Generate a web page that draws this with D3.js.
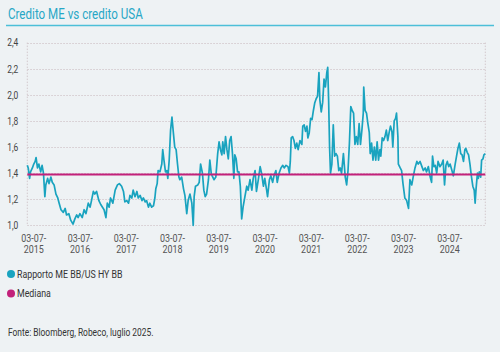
<!DOCTYPE html>
<html lang="it">
<head>
<meta charset="UTF-8">
<title>Credito ME vs credito USA</title>
<script src="https://d3js.org/d3.v7.min.js"></script>
<style>
    html, body { margin: 0; padding: 0; background: #eef2f4; }
    svg { display: block; font-family: Roboto, "Noto Sans", sans-serif; }
</style>
</head>
<body>
<svg width="500" height="352"></svg>
<script>
    // decimal years of the observations
    const years = [
        2015.36, 2015.38, 2015.41, 2015.43, 2015.47, 2015.50, 2015.53, 2015.55, 2015.58, 2015.61,
        2015.65, 2015.68, 2015.71, 2015.74, 2015.76, 2015.80, 2015.83, 2015.87, 2015.90, 2015.94,
        2015.98, 2016.02, 2016.05, 2016.09, 2016.14, 2016.18, 2016.21, 2016.26, 2016.30, 2016.35,
        2016.39, 2016.43, 2016.46, 2016.50, 2016.55, 2016.59, 2016.63, 2016.68, 2016.72, 2016.75,
        2016.79, 2016.82, 2016.86, 2016.91, 2016.95, 2017.02, 2017.06, 2017.09, 2017.13, 2017.16,
        2017.21, 2017.26, 2017.31, 2017.35, 2017.40, 2017.44, 2017.47, 2017.51, 2017.55, 2017.58,
        2017.62, 2017.65, 2017.69, 2017.73, 2017.76, 2017.80, 2017.84, 2017.87, 2017.91, 2017.94,
        2017.98, 2018.01, 2018.05, 2018.09, 2018.12, 2018.14, 2018.17, 2018.19, 2018.23, 2018.27,
        2018.29, 2018.32, 2018.35, 2018.38, 2018.40, 2018.43, 2018.46, 2018.49, 2018.52, 2018.55,
        2018.58, 2018.61, 2018.64, 2018.66, 2018.70, 2018.74, 2018.77, 2018.81, 2018.84, 2018.88,
        2018.92, 2018.95, 2018.97, 2019.00, 2019.05, 2019.08, 2019.11, 2019.15, 2019.18, 2019.21,
        2019.24, 2019.28, 2019.31, 2019.34, 2019.36, 2019.40, 2019.44, 2019.48, 2019.51, 2019.54,
        2019.57, 2019.59, 2019.62, 2019.65, 2019.68, 2019.71, 2019.74, 2019.77, 2019.80, 2019.83,
        2019.85, 2019.88, 2019.91, 2019.94, 2019.97, 2020.00, 2020.03, 2020.07, 2020.11, 2020.14,
        2020.18, 2020.22, 2020.25, 2020.29, 2020.32, 2020.36, 2020.40, 2020.43, 2020.47, 2020.50,
        2020.54, 2020.56, 2020.60, 2020.63, 2020.67, 2020.70, 2020.74, 2020.77, 2020.81, 2020.85,
        2020.89, 2020.92, 2020.96, 2021.00, 2021.03, 2021.05, 2021.07, 2021.10, 2021.13, 2021.16,
        2021.19, 2021.22, 2021.26, 2021.30, 2021.32, 2021.35, 2021.38, 2021.41, 2021.43, 2021.46,
        2021.49, 2021.52, 2021.55, 2021.58, 2021.61, 2021.64, 2021.67, 2021.69, 2021.72, 2021.75,
        2021.78, 2021.81, 2021.84, 2021.86, 2021.88, 2021.90, 2021.92, 2021.95, 2021.98, 2022.01,
        2022.04, 2022.07, 2022.10, 2022.13, 2022.16, 2022.20, 2022.24, 2022.27, 2022.30, 2022.33,
        2022.36, 2022.39, 2022.42, 2022.45, 2022.48, 2022.51, 2022.54, 2022.57, 2022.60, 2022.63,
        2022.64, 2022.67, 2022.70, 2022.73, 2022.76, 2022.78, 2022.81, 2022.84, 2022.87, 2022.90,
        2022.93, 2022.96, 2022.99, 2023.01, 2023.04, 2023.07, 2023.10, 2023.13, 2023.16, 2023.19,
        2023.22, 2023.25, 2023.27, 2023.30, 2023.33, 2023.35, 2023.38, 2023.39, 2023.43, 2023.46,
        2023.49, 2023.53, 2023.57, 2023.61, 2023.64, 2023.68, 2023.71, 2023.75, 2023.79, 2023.82,
        2023.86, 2023.90, 2023.93, 2023.97, 2024.00, 2024.04, 2024.08, 2024.11, 2024.13, 2024.16,
        2024.19, 2024.22, 2024.25, 2024.29, 2024.33, 2024.36, 2024.39, 2024.42, 2024.45, 2024.48,
        2024.51, 2024.55, 2024.58, 2024.62, 2024.65, 2024.68, 2024.71, 2024.74, 2024.77, 2024.80,
        2024.83, 2024.85, 2024.88, 2024.91, 2024.94, 2024.97, 2025.00, 2025.03, 2025.05, 2025.07,
        2025.10, 2025.12, 2025.14, 2025.17, 2025.19, 2025.22, 2025.24, 2025.27
    ];

    // Rapporto ME BB / US HY BB
    const ratio = [
        1.46, 1.44, 1.36, 1.41, 1.44, 1.47, 1.49, 1.52, 1.44, 1.47,
        1.41, 1.46, 1.40, 1.22, 1.31, 1.36, 1.32, 1.37, 1.33, 1.31,
        1.24, 1.21, 1.17, 1.12, 1.10, 1.13, 1.08, 1.09, 1.04, 1.01,
        1.05, 1.08, 1.06, 1.09, 1.06, 1.12, 1.09, 1.17, 1.14, 1.19,
        1.26, 1.24, 1.26, 1.19, 1.16, 1.12, 1.06, 1.17, 1.14, 1.21,
        1.17, 1.27, 1.31, 1.32, 1.30, 1.26, 1.18, 1.19, 1.17, 1.23,
        1.21, 1.27, 1.22, 1.26, 1.21, 1.23, 1.19, 1.21, 1.18, 1.19,
        1.14, 1.17, 1.14, 1.15, 1.21, 1.28, 1.32, 1.42, 1.41, 1.47,
        1.58, 1.49, 1.41, 1.42, 1.36, 1.50, 1.73, 1.83, 1.71, 1.60,
        1.58, 1.47, 1.37, 1.35, 1.37, 1.28, 1.23, 1.09, 1.19, 1.24,
        1.17, 1.00, 1.22, 1.30, 1.31, 1.33, 1.47, 1.40, 1.27, 1.22,
        1.24, 1.35, 1.50, 1.40, 1.38, 1.35, 1.37, 1.55, 1.64, 1.58,
        1.54, 1.64, 1.55, 1.68, 1.58, 1.51, 1.65, 1.68, 1.55, 1.36,
        1.54, 1.51, 1.41, 1.41, 1.30, 1.05, 1.14, 1.22, 1.30, 1.27,
        1.35, 1.27, 1.36, 1.42, 1.26, 1.35, 1.45, 1.40, 1.30, 1.36,
        1.27, 1.22, 1.35, 1.38, 1.33, 1.38, 1.42, 1.33, 1.40, 1.44,
        1.46, 1.44, 1.46, 1.45, 1.40, 1.49, 1.67, 1.68, 1.65, 1.59,
        1.63, 1.58, 1.65, 1.62, 1.76, 1.77, 1.72, 1.76, 1.67, 1.71,
        1.82, 1.81, 1.88, 1.94, 1.97, 1.99, 2.17, 1.96, 1.87, 1.94,
        2.12, 2.06, 2.17, 2.21, 1.95, 1.60, 1.40, 1.47, 1.77, 1.53,
        1.55, 1.53, 1.42, 1.44, 1.40, 1.55, 1.37, 1.31, 1.42, 1.63,
        1.91, 1.88, 1.86, 1.62, 1.68, 1.62, 1.78, 1.62, 1.73, 1.86,
        2.06, 1.88, 1.86, 1.78, 1.71, 1.55, 1.63, 1.50, 1.60, 1.50,
        1.64, 1.50, 1.58, 1.53, 1.67, 1.65, 1.68, 1.73, 1.65, 1.71,
        1.76, 1.72, 1.60, 1.80, 1.82, 1.86, 1.68, 1.47, 1.44, 1.42,
        1.32, 1.21, 1.19, 1.13, 1.35, 1.31, 1.37, 1.44, 1.49, 1.47,
        1.49, 1.45, 1.42, 1.44, 1.41, 1.45, 1.37, 1.33, 1.53, 1.45,
        1.46, 1.40, 1.49, 1.45, 1.47, 1.50, 1.31, 1.46, 1.49, 1.45,
        1.47, 1.42, 1.38, 1.47, 1.53, 1.59, 1.63, 1.55, 1.54, 1.49,
        1.58, 1.59, 1.56, 1.54, 1.47, 1.38, 1.30, 1.27, 1.17, 1.28,
        1.40, 1.36, 1.41, 1.37, 1.50, 1.51, 1.54, 1.55
    ];

    const median = 1.39;
    const yTicks = [1.0, 1.2, 1.4, 1.6, 1.8, 2.0, 2.2, 2.4];
    const tickYears = [2015, 2016, 2017, 2018, 2019, 2020, 2021, 2022, 2023, 2024];
    const legendItems = [
        { label: "Rapporto ME BB/US HY BB", color: "#19a3bf" },
        { label: "Mediana", color: "#c2217a" }
    ];

    function toDate(y) {
        const yr = Math.floor(y);
        const start = new Date(yr, 0, 1);
        return new Date(start.getTime() + (y - yr) * 365.25 * 864e5);
    }

    const data = years.map((y, i) => ({ date: toDate(y), value: ratio[i] }));

    const svg = d3.select("svg");
    const plot = { left: 27.3, right: 485.3, top: 42.6, bottom: 225.4 };

    const x = d3.scaleTime()
        .domain(d3.extent(data, d => d.date))
        .range([plot.left, plot.right]);
    const y = d3.scaleLinear()
        .domain([1.0, 2.4])
        .range([plot.bottom, plot.top]);

    // squeeze text to look like the condensed font of the original
    function condense(sel, k) {
        sel.each(function() {
            const w = this.getComputedTextLength();
            d3.select(this).attr("textLength", w * k).attr("lengthAdjust", "spacingAndGlyphs");
        });
    }

    // title + rule
    svg.append("text")
        .attr("x", 8).attr("y", 18.5)
        .attr("fill", "#27a7c6")
        .attr("font-size", 14.5)
        .text("Credito ME vs credito USA")
        .call(condense, 0.8);
    svg.append("line")
        .attr("x1", 6).attr("x2", 494)
        .attr("y1", 25.5).attr("y2", 25.5)
        .attr("stroke", "#4cbfd8").attr("stroke-width", 1.5);

    // grid
    const grid = svg.append("g");
    grid.selectAll("line.h")
        .data(yTicks)
        .join("line")
        .attr("class", "h")
        .attr("x1", plot.left).attr("x2", plot.right)
        .attr("y1", d => Math.round(y(d)) + 0.5).attr("y2", d => Math.round(y(d)) + 0.5)
        .attr("stroke", "#d3c9cd")
        .attr("stroke-dasharray", "1.5,1.5");
    grid.selectAll("line.v")
        .data([plot.left, plot.right])
        .join("line")
        .attr("class", "v")
        .attr("x1", d => d).attr("x2", d => d)
        .attr("y1", plot.top).attr("y2", plot.bottom)
        .attr("stroke", "#d3c9cd")
        .attr("stroke-dasharray", "1.5,1.5");

    // y labels
    const yAxis = d3.axisLeft(y)
        .tickValues(yTicks)
        .tickSize(0)
        .tickPadding(9)
        .tickFormat(d => d3.format(".1f")(d).replace(".", ","));
    const gy = svg.append("g")
        .attr("transform", `translate(${plot.left},0)`)
        .call(yAxis);
    gy.select(".domain").remove();
    gy.selectAll("text")
        .attr("fill", "#444")
        .attr("font-size", 10.5)
        .attr("font-family", "Roboto, sans-serif")
        .call(condense, 0.8);

    // x labels: one text per tick, two lines as tspans
    const tickDates = tickYears.map(yr => new Date(yr, 6, 3));
    const xAxis = d3.axisBottom(x)
        .tickValues(tickDates)
        .tickSize(0)
        .tickFormat("");
    const gx = svg.append("g")
        .attr("transform", `translate(0,${plot.bottom})`)
        .call(xAxis);
    gx.select(".domain").remove();
    const xl = svg.append("g")
        .attr("fill", "#555")
        .attr("font-size", 10.5)
        .attr("text-anchor", "middle")
        .selectAll("text")
        .data(tickDates)
        .join("text")
        .attr("transform", d => `translate(${x(d)},242) scale(0.85,1)`);
    xl.append("tspan")
        .attr("x", 0).attr("y", 0)
        .text("03-07-");
    xl.append("tspan")
        .attr("x", 0).attr("y", 11)
        .text(d => d.getFullYear());

    // series
    const line = d3.line()
        .x(d => x(d.date))
        .y(d => y(d.value));
    svg.append("path")
        .datum(data)
        .attr("fill", "none")
        .attr("stroke", legendItems[0].color)
        .attr("stroke-width", 1.7)
        .attr("stroke-linejoin", "round")
        .attr("d", line);

    // median
    svg.append("line")
        .attr("x1", plot.left).attr("x2", plot.right)
        .attr("y1", y(median)).attr("y2", y(median))
        .attr("stroke", legendItems[1].color)
        .attr("stroke-width", 2);

    // legend
    const lg = svg.append("g")
        .selectAll("g")
        .data(legendItems)
        .join("g")
        .attr("transform", (d, i) => `translate(11,${274 + i * 19.5})`);
    lg.append("circle")
        .attr("r", 4)
        .attr("fill", d => d.color);
    lg.append("text")
        .attr("x", 6)
        .attr("dy", "0.35em")
        .attr("font-size", 11)
        .attr("fill", "#333")
        .text(d => d.label)
        .call(condense, 0.8);

    // source
    svg.append("text")
        .attr("x", 8).attr("y", 335.5)
        .attr("font-size", 10.5)
        .attr("fill", "#333")
        .text("Fonte: Bloomberg, Robeco, luglio 2025.")
        .call(condense, 0.8);
</script>
</body>
</html>
